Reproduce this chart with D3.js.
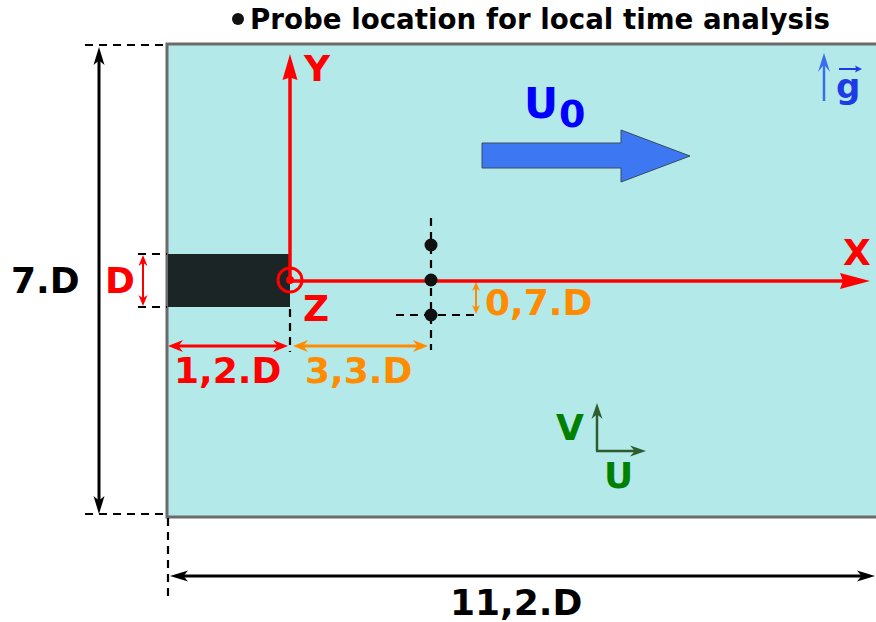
<!DOCTYPE html>
<html><head><meta charset="utf-8">
<script src="https://cdn.jsdelivr.net/npm/d3@7"></script>
<style>
body{margin:0;background:#fff}
svg{display:block}
text{font-family:"DejaVu Sans",sans-serif;font-weight:bold}
</style>
</head><body><div id="c"></div>
<script>
// ---- data (diagram quantities, in units of D) ----
const title = "Probe location for local time analysis";
const domainExtentX = [-1.2, 10];      // 11,2.D long, origin at cylinder rear face
const domainExtentY = [-3.5, 3.5];     // 7.D high
const cylinderX = [-1.2, 0];           // 1,2.D long
const cylinderY = [-0.5, 0.5];         // D high
const probeX = [3.3, 3.3, 3.3];        // 3,3.D downstream
const probeY = [0.7, 0, -0.7];         // 0,7.D spacing
const dimLabels = ["7.D", "D", "1,2.D", "3,3.D", "0,7.D", "11,2.D"];
const axisNames = ["X", "Y", "Z"];
const velocityNames = ["U", "V"];
const inflowName = ["U", "0"];
const gravityName = "g";

const W = 876, H = 622;
const svg = d3.select("#c").append("svg").attr("width", W).attr("height", H);

// piecewise scales (the sketch is not to scale)
const xs = d3.scaleLinear().domain([-1.2, 0, 3.3, 10]).range([167, 290, 431, 878]);
const ys = d3.scaleLinear().domain([-3.5, -0.7, -0.5, 0, 0.5, 0.7, 3.5]).range([517, 315, 307, 280, 254, 245, 44]);

function head(g, tx, ty, dx, dy, len, hw, notch, fill) {
  const L = Math.hypot(dx, dy), ux = dx / L, uy = dy / L, px = -uy, py = ux;
  const bx = tx - ux * len, by = ty - uy * len;
  const nx = tx - ux * len * notch, ny = ty - uy * len * notch;
  g.append("path")
    .attr("d", `M${tx},${ty}L${bx + px * hw},${by + py * hw}L${nx},${ny}L${bx - px * hw},${by - py * hw}Z`)
    .attr("fill", fill);
}
function arrow(g, x1, y1, x2, y2, o) {
  const L = Math.hypot(x2 - x1, y2 - y1), ux = (x2 - x1) / L, uy = (y2 - y1) / L;
  const s = o.start ? o.len * o.notch * 0.9 : 0, e = o.end !== false ? o.len * o.notch * 0.9 : 0;
  g.append("line")
    .attr("x1", x1 + ux * s).attr("y1", y1 + uy * s)
    .attr("x2", x2 - ux * e).attr("y2", y2 - uy * e)
    .attr("stroke", o.color).attr("stroke-width", o.width);
  if (o.end !== false) head(g, x2, y2, ux, uy, o.len, o.hw, o.notch, o.color);
  if (o.start) head(g, x1, y1, -ux, -uy, o.len, o.hw, o.notch, o.color);
}
function dashed(g, x1, y1, x2, y2) {
  g.append("line").attr("x1", x1).attr("y1", y1).attr("x2", x2).attr("y2", y2)
    .attr("stroke", "#000").attr("stroke-width", 2.2).attr("stroke-dasharray", "8,6");
}
function label(g, txt, x, y, size, color, anchor) {
  return g.append("text").attr("x", x).attr("y", y).attr("font-size", size)
    .attr("fill", color).attr("text-anchor", anchor || "start").text(txt);
}

const g = svg.append("g");

// title
g.append("circle").attr("cx", 238).attr("cy", 19).attr("r", 6).attr("fill", "#111");
label(g, title, 250, 29, 28, "#000").attr("textLength", 580).attr("lengthAdjust", "spacingAndGlyphs");

// computational domain
const dx0 = xs(domainExtentX[0]), dx1 = xs(domainExtentX[1]);
const dy0 = ys(domainExtentY[1]), dy1 = ys(domainExtentY[0]);
g.append("rect").attr("x", dx0).attr("y", dy0).attr("width", dx1 - dx0).attr("height", dy1 - dy0)
  .attr("fill", "#b3e9e9").attr("stroke", "#6b6b6b").attr("stroke-width", 3);

// 7.D dimension
dashed(g, 85, dy0 + 1, dx0, dy0 + 1);
dashed(g, 85, dy1 - 3, dx0, dy1 - 3);
arrow(g, 99, dy1 - 3, 99, dy0 + 3, {color: "#000", width: 3, len: 18, hw: 5.5, notch: 0.75, start: true});
label(g, dimLabels[0], 11, 293, 36, "#000");

// cylinder
const cx0 = xs(cylinderX[0]), cx1 = xs(cylinderX[1]);
const cy0 = ys(cylinderY[1]), cy1 = ys(cylinderY[0]);
g.append("rect").attr("x", cx0 + 1).attr("y", cy0).attr("width", cx1 - cx0 - 1).attr("height", cy1 - cy0)
  .attr("fill", "#1b2525");
dashed(g, 138, cy0, cx0, cy0);
dashed(g, 138, cy1, cx0, cy1);
arrow(g, 143, cy1 - 1, 143, cy0 + 1, {color: "#f00", width: 2, len: 11, hw: 4.5, notch: 0.7, start: true});
label(g, dimLabels[1], 105, 293, 36, "#f00");

// 1,2.D dimension
dashed(g, cx1, cy1 + 2, cx1, 352);
arrow(g, cx0 + 1, 346, cx1 - 2, 346, {color: "#f00", width: 3, len: 15, hw: 6, notch: 0.7, start: true});
label(g, dimLabels[2], 174, 383, 36, "#f00");

// 3,3.D dimension
const px = xs(probeX[0]);
arrow(g, cx1 + 3, 346, px - 3, 346, {color: "#ff8c00", width: 3, len: 15, hw: 6, notch: 0.7, start: true});
label(g, dimLabels[3], 305, 383, 36, "#ff8c00");

// probe line and 0,7.D dimension
dashed(g, px, 218, px, 350);
dashed(g, 396, ys(probeY[2]), 476, ys(probeY[2]));
arrow(g, 476, ys(0) + 2, 476, ys(probeY[2]) - 1, {color: "#ff8c00", width: 2, len: 9, hw: 4, notch: 0.7, start: true});
label(g, dimLabels[4], 485, 315, 36, "#ff8c00");

// red coordinate axes
arrow(g, cx1, ys(0) + 1, 870, ys(0) + 1, {color: "#f00", width: 3.5, len: 30, hw: 8, notch: 0.9});
arrow(g, cx1, ys(0), cx1, 54, {color: "#f00", width: 3.5, len: 26, hw: 7.5, notch: 0.9});
g.append("circle").attr("cx", cx1).attr("cy", ys(0)).attr("r", 12).attr("fill", "none")
  .attr("stroke", "#f00").attr("stroke-width", 3);
g.append("circle").attr("cx", cx1).attr("cy", ys(0)).attr("r", 4).attr("fill", "#f00");
label(g, axisNames[0], 843, 265, 36, "#f00");
label(g, axisNames[1], 304, 81, 36, "#f00");
label(g, axisNames[2], 303, 321, 36, "#f00");

// probes
g.selectAll("circle.probe").data(probeY).join("circle").attr("class", "probe")
  .attr("cx", (d, i) => xs(probeX[i])).attr("cy", d => ys(d)).attr("r", 6.5).attr("fill", "#111");

// inflow arrow
g.append("path")
  .attr("d", "M482,143L621,143L621,130L690,156L621,182L621,168L482,168Z")
  .attr("fill", "#3d78f2").attr("stroke", "#3a4a60").attr("stroke-width", 1);
label(g, inflowName[0], 524, 118, 42, "#0000ff");
label(g, inflowName[1], 559, 127, 38, "#0000ff");

// gravity
arrow(g, 824, 101, 824, 53, {color: "#3a6ee8", width: 2.5, len: 19, hw: 6, notch: 0.6});
label(g, gravityName, 836, 98, 34, "#1e3ce6");
arrow(g, 839, 69, 862, 69, {color: "#1e3ce6", width: 2, len: 7, hw: 3.5, notch: 0.8});

// velocity components
arrow(g, 597, 451, 597, 403, {color: "#2d5d2d", width: 2.5, len: 16, hw: 5.5, notch: 0.7});
arrow(g, 596, 451, 646, 451, {color: "#2d5d2d", width: 2.5, len: 16, hw: 5.5, notch: 0.7});
label(g, velocityNames[1], 556, 440, 36, "#008000");
label(g, velocityNames[0], 604, 488, 36, "#008000");

// 11,2.D dimension
dashed(g, dx0 + 1, dy1 + 1, dx0 + 1, 602);
arrow(g, dx0 + 3, 576, 875, 576, {color: "#000", width: 3, len: 18, hw: 5.5, notch: 0.75, start: true});
label(g, dimLabels[5], 450, 615, 36, "#000");
</script></body></html>
